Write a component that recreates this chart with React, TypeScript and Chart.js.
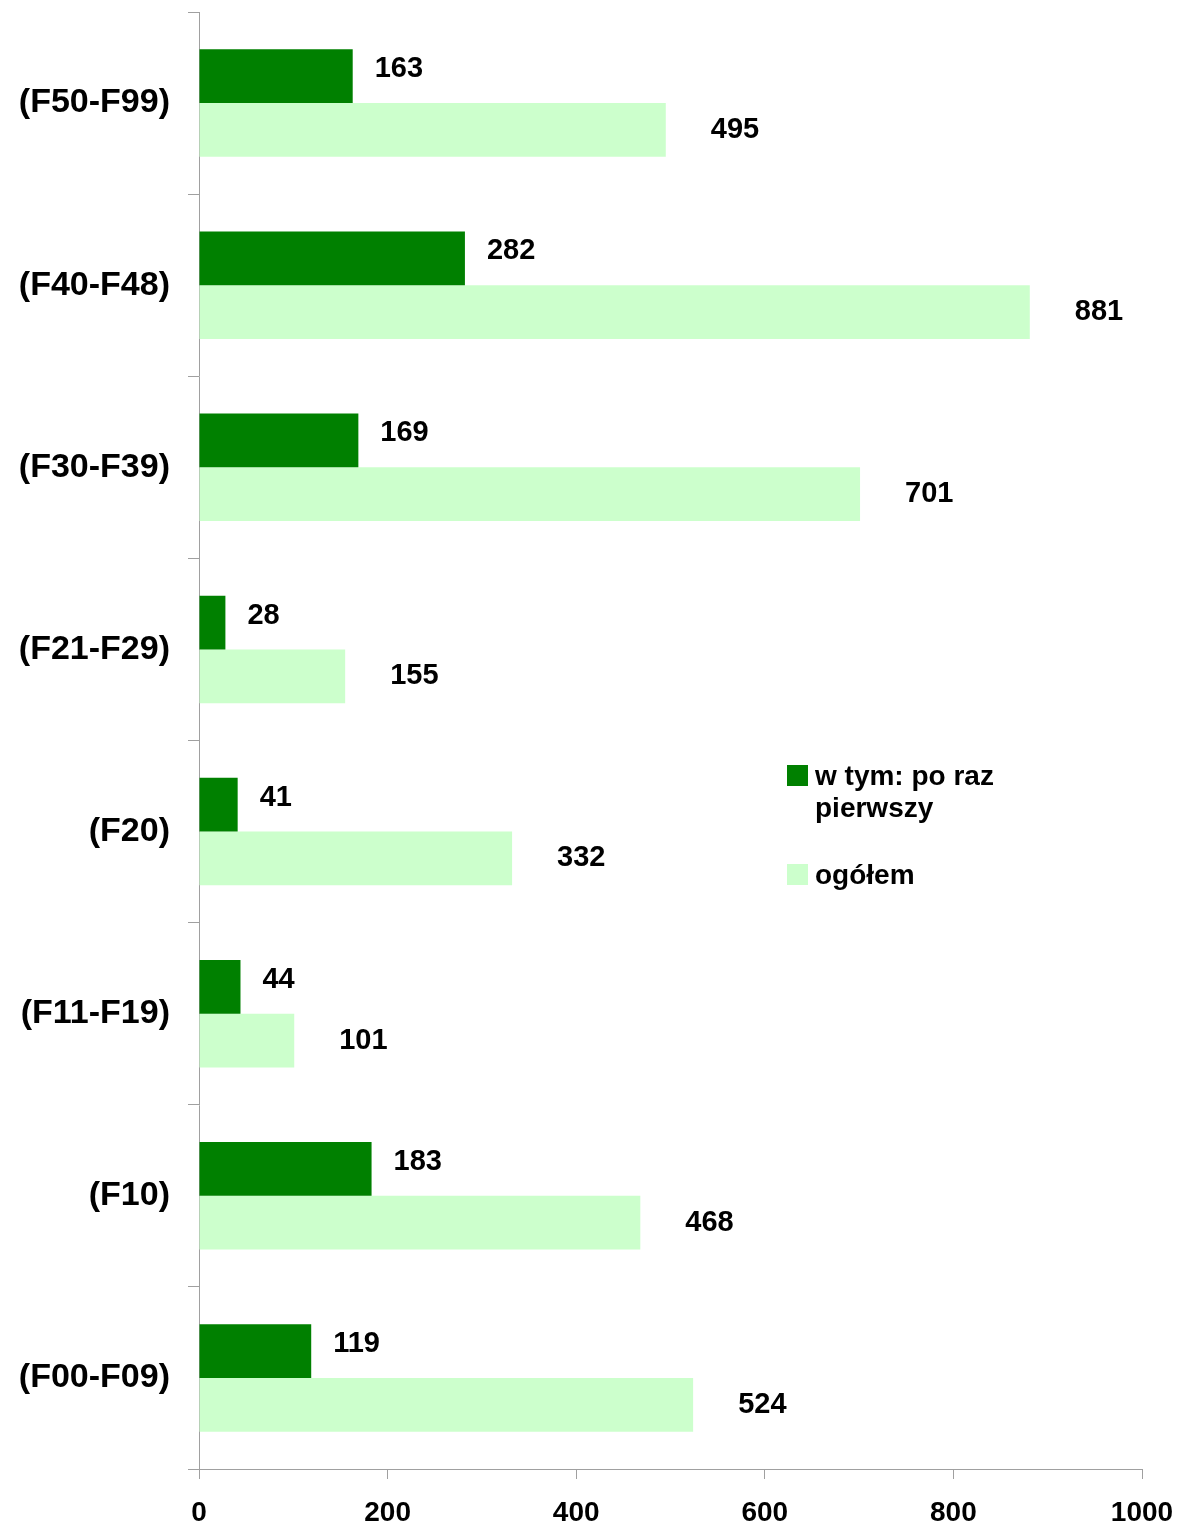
import React, { useEffect, useRef } from "react";
import { Chart, registerables } from "chart.js";

Chart.register(...registerables);

const categories = ["(F50-F99)", "(F40-F48)", "(F30-F39)", "(F21-F29)", "(F20)", "(F11-F19)", "(F10)", "(F00-F09)"];
const firstTime = [163, 282, 169, 28, 41, 44, 183, 119];
const total = [495, 881, 701, 155, 332, 101, 468, 524];
const seriesNames = ["w tym: po raz pierwszy", "ogółem"];
const xTicks = [0, 200, 400, 600, 800, 1000];

const FONT = "'Liberation Sans', Arial, sans-serif";
const DARK = "#008000";
const LIGHT = "#CCFFCC";
const AXIS = "#A0A0A0";

const labelPlugin = {
  id: "valueLabels",
  afterDatasetsDraw(chart: any) {
    const ctx = chart.ctx;
    ctx.save();
    ctx.font = `bold 29px ${FONT}`;
    ctx.fillStyle = "#000";
    ctx.textAlign = "left";
    ctx.textBaseline = "middle";
    const offs = [
      { dx: 22, dy: -7 },
      { dx: 45, dy: 0 },
    ];
    chart.data.datasets.forEach((ds: any, di: number) => {
      const meta = chart.getDatasetMeta(di);
      meta.data.forEach((bar: any, i: number) => {
        ctx.fillText(String(ds.data[i]), bar.x + offs[di].dx, bar.y + offs[di].dy);
      });
    });
    ctx.restore();
  },
};

export default function App() {
  const ref = useRef<HTMLCanvasElement>(null);
  useEffect(() => {
    if (!ref.current) return;
    const chart = new Chart(ref.current, {
      type: "bar",
      data: {
        labels: categories,
        datasets: [
          { label: seriesNames[0], data: firstTime, backgroundColor: DARK, borderWidth: 0 },
          { label: seriesNames[1], data: total, backgroundColor: LIGHT, borderWidth: 0 },
        ],
      },
      options: {
        indexAxis: "y",
        animation: false,
        responsive: false,
        maintainAspectRatio: false,
        layout: { padding: { top: 12, right: 47, left: 0, bottom: 0 } },
        datasets: { bar: { categoryPercentage: 0.59, barPercentage: 1.0 } },
        plugins: { legend: { display: false }, tooltip: { enabled: false } },
        scales: {
          x: {
            min: 0,
            max: 1000,
            afterBuildTicks: (scale: any) => {
              scale.ticks = xTicks.map((v) => ({ value: v }));
            },
            afterFit: (scale: any) => {
              scale.height = 60;
              scale.paddingLeft = 0;
              scale.paddingRight = 0;
            },
            border: { display: true, color: AXIS, width: 1 },
            grid: { display: true, drawOnChartArea: false, drawTicks: true, tickLength: 10, color: AXIS },
            ticks: {
              color: "#000",
              font: { family: FONT, size: 28, weight: "bold" },
              padding: 17,
              maxRotation: 0,
              callback: (v: any) => String(v),
            },
          },
          y: {
            afterFit: (scale: any) => {
              scale.width = 199;
              scale.paddingTop = 0;
              scale.paddingBottom = 0;
            },
            border: { display: true, color: AXIS, width: 1 },
            grid: { display: true, offset: true, drawOnChartArea: false, drawTicks: true, tickLength: 11, color: AXIS },
            ticks: {
              color: "#000",
              font: { family: FONT, size: 34, weight: "bold" },
              padding: 18,
            },
          },
        },
      },
      plugins: [labelPlugin],
    } as any);
    return () => chart.destroy();
  }, []);

  const legendText: React.CSSProperties = {
    position: "absolute",
    fontFamily: FONT,
    fontWeight: "bold",
    fontSize: 28,
    lineHeight: "32px",
    color: "#000",
    whiteSpace: "nowrap",
  };

  return (
    <div style={{ position: "absolute", left: 0, top: 0, width: 1189, height: 1529, background: "#fff" }}>
      <canvas ref={ref} width={1189} height={1529} style={{ display: "block", width: 1189, height: 1529 }} />
      <div style={{ position: "absolute", left: 787, top: 765, width: 21, height: 21, background: DARK }} />
      <div style={{ ...legendText, left: 815, top: 760 }}>
        w tym: po raz
        <br />
        pierwszy
      </div>
      <div style={{ position: "absolute", left: 787, top: 864, width: 21, height: 21, background: LIGHT }} />
      <div style={{ ...legendText, left: 815, top: 859 }}>ogółem</div>
    </div>
  );
}
